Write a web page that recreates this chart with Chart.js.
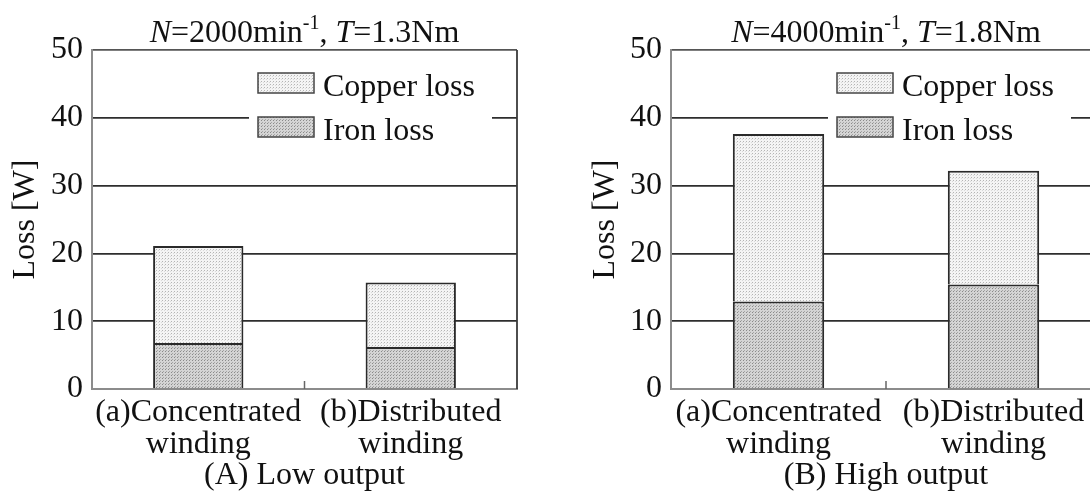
<!DOCTYPE html>
<html>
<head>
<meta charset="utf-8">
<script src="https://cdn.jsdelivr.net/npm/chart.js@4.4.1/dist/chart.umd.min.js"></script>
<style>
  html, body { margin: 0; padding: 0; background: #fff; overflow: hidden; width: 1090px; height: 504px; }
  #low { position: absolute; left: 0; top: 0; }
  #high { position: absolute; left: 545px; top: 0; }
</style>
</head>
<body>
<canvas id="low" width="545" height="504"></canvas>
<canvas id="high" width="560" height="504"></canvas>
<script>
// ---- data ----
const categories = [['(a)Concentrated', 'winding'], ['(b)Distributed', 'winding']];
const seriesNames = ['Iron loss', 'Copper loss'];
const lowIron = [6.8, 6.2];
const lowCopper = [14.3, 9.5];
const highIron = [12.9, 15.4];
const highCopper = [24.7, 16.8];
const yMin = 0, yMax = 50, yStep = 10;
const lowCaption = '(A) Low output';
const highCaption = '(B) High output';
const lowCondition = { speed: '2000', torque: '1.3' };
const highCondition = { speed: '4000', torque: '1.8' };

const FAMILY = "'Liberation Serif', 'Times New Roman', serif";
const INK = '#111';

// halftone-like fills for the two loss components
function makePattern(base, dots) {
  const c = document.createElement('canvas');
  c.width = 3; c.height = 3;
  const g = c.getContext('2d');
  g.fillStyle = base; g.fillRect(0, 0, 3, 3);
  dots.forEach(([x, y, col]) => { g.fillStyle = col; g.fillRect(x, y, 1, 1); });
  return g.createPattern(c, 'repeat');
}
const copperFill = makePattern('#f4f4f4', [[0, 0, '#b4b4b4'], [2, 1, '#dadada']]);
const ironFill = makePattern('#d4d4d4', [[0, 0, '#8a8a8a'], [1, 2, '#a6a6a6']]);

// panel heading: N=...min^-1, T=...Nm with italic symbols and a superscript
const headingPlugin = {
  id: 'heading',
  afterDraw(chart, args, opts) {
    const { ctx, chartArea } = chart;
    const parts = [
      { t: 'N', f: `italic 32px ${FAMILY}` },
      { t: '=' + opts.speed + 'min', f: `32px ${FAMILY}` },
      { t: '-1', f: `20px ${FAMILY}`, up: 13 },
      { t: ', ', f: `32px ${FAMILY}` },
      { t: 'T', f: `italic 32px ${FAMILY}` },
      { t: '=' + opts.torque + 'Nm', f: `32px ${FAMILY}` }
    ];
    ctx.save();
    let total = 0;
    parts.forEach(p => { ctx.font = p.f; p.w = ctx.measureText(p.t).width; total += p.w; });
    let x = (chartArea.left + chartArea.right) / 2 - total / 2;
    const base = 42;
    ctx.fillStyle = INK;
    ctx.textBaseline = 'alphabetic';
    ctx.textAlign = 'left';
    parts.forEach(p => {
      ctx.font = p.f;
      ctx.fillText(p.t, x, base - (p.up || 0));
      x += p.w;
    });
    ctx.restore();
  }
};

// right frame edge and the small divider tick on the category axis
const framePlugin = {
  id: 'frame',
  beforeDatasetsDraw(chart) {
    const { ctx, chartArea, scales } = chart;
    ctx.save();
    ctx.strokeStyle = '#3a3a3a';
    ctx.lineWidth = 1.8;
    ctx.beginPath();
    ctx.moveTo(chartArea.right, chartArea.top);
    ctx.lineTo(chartArea.right, chartArea.bottom);
    ctx.stroke();
    const mid = (scales.x.getPixelForValue(0) + scales.x.getPixelForValue(1)) / 2;
    ctx.strokeStyle = '#666';
    ctx.lineWidth = 1.5;
    ctx.beginPath();
    ctx.moveTo(mid, chartArea.bottom);
    ctx.lineTo(mid, chartArea.bottom - 8);
    ctx.stroke();
    ctx.restore();
  }
};

// legend inside the plot, top right, on a white ground
const insideLegend = {
  id: 'insideLegend',
  afterDatasetsDraw(chart) {
    const { ctx, chartArea } = chart;
    const L = chartArea.left;
    ctx.save();
    ctx.fillStyle = '#fff';
    ctx.fillRect(L + 157, chartArea.top + 4, 243, 100);
    const items = chart.data.datasets.slice().reverse();
    items.forEach((ds, i) => {
      const y = chartArea.top + 23 + i * 44;
      ctx.fillStyle = ds.backgroundColor;
      ctx.fillRect(L + 166, y, 56, 20);
      ctx.strokeStyle = '#444';
      ctx.lineWidth = 1.5;
      ctx.strokeRect(L + 166, y, 56, 20);
      ctx.fillStyle = INK;
      ctx.font = `32px ${FAMILY}`;
      ctx.textBaseline = 'alphabetic';
      ctx.textAlign = 'left';
      ctx.fillText(ds.label, L + 231, y + 23);
    });
    ctx.restore();
  }
};

function buildChart(id, iron, copper, caption, condition, pad, yWidth) {
  return new Chart(document.getElementById(id), {
    type: 'bar',
    data: {
      labels: categories,
      datasets: [
        { label: seriesNames[0], data: iron, backgroundColor: ironFill,
          borderColor: '#2a2a2a', borderWidth: 2, barPercentage: 0.425, categoryPercentage: 1 },
        { label: seriesNames[1], data: copper, backgroundColor: copperFill,
          borderColor: '#2a2a2a', borderWidth: 2, barPercentage: 0.425, categoryPercentage: 1 }
      ]
    },
    options: {
      responsive: false,
      animation: false,
      devicePixelRatio: 1,
      layout: { padding: pad },
      plugins: {
        legend: { display: false },
        tooltip: { enabled: false },
        heading: condition
      },
      scales: {
        x: {
          stacked: true,
          offset: true,
          grid: { display: true, drawOnChartArea: false, drawTicks: false },
          border: { display: true, color: '#8c8c8c', width: 2 },
          ticks: { color: INK, padding: 8, maxRotation: 0, autoSkip: false,
                   font: { family: FAMILY, size: 32, lineHeight: 1.0 } },
          title: { display: true, text: caption, color: INK,
                   font: { family: FAMILY, size: 32, lineHeight: 1.0 },
                   padding: { top: 0, bottom: 12 } },
          afterFit(s) { s.height = 115; }
        },
        y: {
          stacked: true,
          min: yMin, max: yMax,
          ticks: { stepSize: yStep, color: INK, padding: 9,
                   font: { family: FAMILY, size: 32 } },
          grid: {
            drawTicks: false,
            lineWidth: 1.8,
            color: c => c.tick.value === yMin ? 'rgba(0,0,0,0)'
                      : (c.tick.value === yMax ? '#555' : '#2e2e2e')
          },
          border: { display: true, color: '#8c8c8c', width: 2 },
          title: { display: true, text: 'Loss [W]', color: INK,
                   font: { family: FAMILY, size: 32 }, padding: { top: 4, bottom: 0 } },
          afterFit(s) { s.width = yWidth; }
        }
      }
    },
    plugins: [headingPlugin, framePlugin, insideLegend]
  });
}

buildChart('low', lowIron, lowCopper, lowCaption, lowCondition,
           { top: 50, left: 2, right: 28, bottom: 0 }, 90);
buildChart('high', highIron, highCopper, highCaption, highCondition,
           { top: 50, left: 37, right: 4, bottom: 0 }, 89);
</script>
</body>
</html>
